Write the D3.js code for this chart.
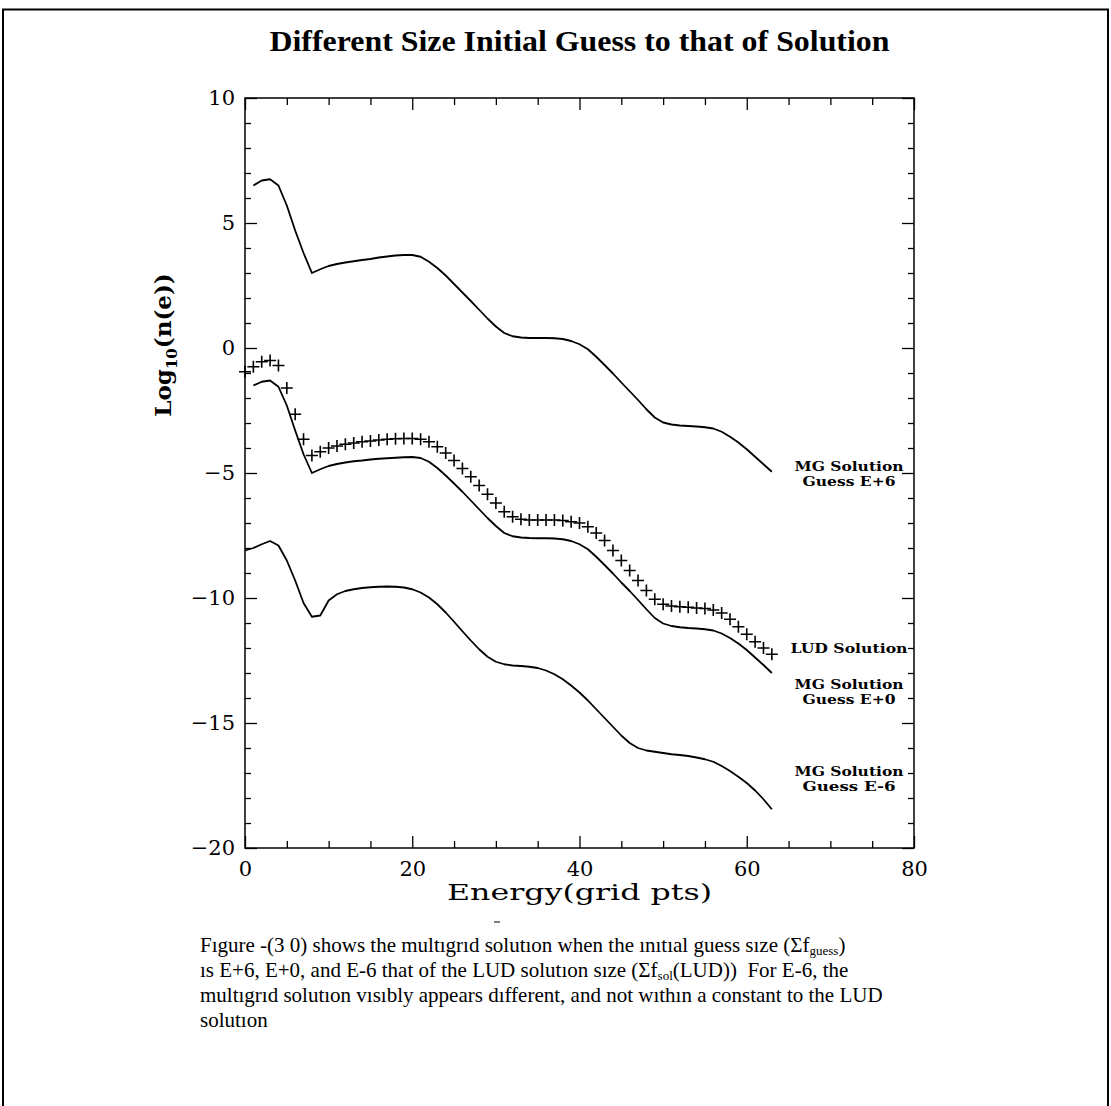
<!DOCTYPE html>
<html><head><meta charset="utf-8">
<script src="https://cdn.jsdelivr.net/npm/d3@7"></script>
<style>body{margin:0;background:#fff}svg{display:block}</style>
</head><body>
<svg id="c" width="1111" height="1106"></svg>
<script>
const titleText = "Different Size Initial Guess to that of Solution";
const xTicks = [0, 20, 40, 60, 80];
const yTicks = [10, 5, 0, -5, -10, -15, -20];
const gridPtsA = [1,2,3,4,5,6,7,8,9,10,11,12,13,14,15,16,17,18,19,20,21,22,23,24,25,26,27,28,29,30,31,32,33,34,35,36,37,38,39,40,41,42,43,44,45,46,47,48,49,50,51,52,53,54,55,56,57,58,59,60,61,62,63];
const gridPtsB = [0].concat(gridPtsA);
const mgGuessEp6 = [6.5,6.7,6.75,6.5,5.7,4.7,3.8,3.0,3.15,3.28,3.36,3.42,3.47,3.52,3.56,3.62,3.66,3.7,3.72,3.72,3.65,3.45,3.2,2.9,2.56,2.22,1.88,1.53,1.18,0.86,0.6,0.47,0.42,0.4,0.4,0.4,0.39,0.36,0.28,0.15,-0.05,-0.35,-0.68,-1.02,-1.38,-1.73,-2.08,-2.45,-2.78,-2.98,-3.06,-3.1,-3.12,-3.14,-3.17,-3.22,-3.35,-3.55,-3.78,-4.05,-4.35,-4.65,-4.95];
const mgGuessE0 = [-1.5,-1.35,-1.3,-1.55,-2.3,-3.3,-4.25,-5.0,-4.85,-4.72,-4.64,-4.58,-4.53,-4.5,-4.46,-4.43,-4.41,-4.39,-4.37,-4.36,-4.4,-4.55,-4.8,-5.1,-5.42,-5.75,-6.1,-6.45,-6.8,-7.12,-7.4,-7.53,-7.58,-7.6,-7.61,-7.61,-7.62,-7.65,-7.72,-7.85,-8.05,-8.35,-8.68,-9.02,-9.38,-9.72,-10.08,-10.45,-10.8,-11.02,-11.12,-11.17,-11.2,-11.22,-11.25,-11.3,-11.42,-11.6,-11.82,-12.08,-12.38,-12.68,-13.0];
const mgGuessEm6 = [-8.1,-8.0,-7.85,-7.72,-7.9,-8.5,-9.3,-10.2,-10.75,-10.7,-10.1,-9.85,-9.72,-9.65,-9.6,-9.57,-9.55,-9.54,-9.55,-9.58,-9.65,-9.78,-9.98,-10.25,-10.58,-10.95,-11.33,-11.7,-12.05,-12.35,-12.55,-12.65,-12.7,-12.72,-12.75,-12.8,-12.9,-13.05,-13.25,-13.5,-13.78,-14.1,-14.45,-14.8,-15.15,-15.5,-15.8,-16.0,-16.1,-16.15,-16.2,-16.25,-16.28,-16.32,-16.38,-16.45,-16.55,-16.72,-16.92,-17.15,-17.4,-17.7,-18.05,-18.45];
const ludSolution = [-0.95,-0.75,-0.55,-0.5,-0.7,-1.6,-2.65,-3.65,-4.3,-4.15,-4.0,-3.92,-3.85,-3.8,-3.75,-3.72,-3.68,-3.65,-3.63,-3.62,-3.62,-3.65,-3.75,-3.95,-4.2,-4.5,-4.82,-5.15,-5.5,-5.85,-6.2,-6.55,-6.75,-6.85,-6.88,-6.88,-6.88,-6.88,-6.9,-6.95,-7.0,-7.15,-7.4,-7.7,-8.1,-8.5,-8.9,-9.3,-9.7,-10.05,-10.25,-10.32,-10.35,-10.37,-10.4,-10.42,-10.48,-10.6,-10.85,-11.15,-11.45,-11.75,-12.0,-12.25];
const seriesLabels = [
  {lines:["MG Solution","Guess E+6"], y:-4.93},
  {lines:["LUD Solution"], y:-12.2},
  {lines:["MG Solution","Guess E+0"], y:-13.65},
  {lines:["MG Solution","Guess E-6"], y:-17.13}
];
const captionLines = [
  [["Fıgure -(3 0) shows the multıgrıd solutıon when the ınıtıal guess sıze (Σf",0],["guess",1],[")",0]],
  [["ıs E+6, E+0, and E-6 that of the LUD solutıon sıze (Σf",0],["sol",1],["(LUD))\u00a0 For E-6, the",0]],
  [["multıgrıd solutıon vısıbly appears dıfferent, and not wıthın a constant to the LUD",0]],
  [["solutıon",0]]
];

const svg = d3.select("#c");
const L = 245, R = 914, T = 98, B = 848;
const x = d3.scaleLinear().domain([0, 80]).range([L, R]);
const y = d3.scaleLinear().domain([-20, 10]).range([B, T]);

// page frame
svg.append("path").attr("d", `M3,1106 V9.5 H1108 V1106`).attr("fill","none").attr("stroke","#000").attr("stroke-width",2);

// title
svg.append("text").attr("x", (L+R)/2).attr("y", 51).attr("text-anchor","middle")
  .attr("font-family","Liberation Serif").attr("font-weight","bold").attr("font-size",30)
  .attr("textLength",620).attr("lengthAdjust","spacingAndGlyphs").text(titleText);

// frame of plot
svg.append("rect").attr("x",L).attr("y",T).attr("width",R-L).attr("height",B-T)
  .attr("fill","none").attr("stroke","#000").attr("stroke-width",1.5);

const tickFont = g => g.selectAll("text").attr("font-family","DejaVu Serif").attr("font-size",21).attr("fill","#000");
const clean = g => { g.select(".domain").remove(); g.selectAll("line").attr("stroke","#000").attr("stroke-width",1.3); };

// major ticks with labels
svg.append("g").attr("transform",`translate(0,${B})`)
  .call(d3.axisBottom(x).tickValues(xTicks).tickSize(-12).tickPadding(13).tickFormat(d3.format("d")))
  .call(clean).call(tickFont);
svg.append("g").attr("transform",`translate(${L},0)`)
  .call(d3.axisLeft(y).tickValues(yTicks).tickSize(-12).tickPadding(10).tickFormat(d => d < 0 ? "\u2212" + Math.abs(d) : d))
  .call(clean).call(tickFont);
svg.append("g").attr("transform",`translate(0,${T})`)
  .call(d3.axisTop(x).tickValues(xTicks).tickSize(-12).tickFormat(""))
  .call(clean);
svg.append("g").attr("transform",`translate(${R},0)`)
  .call(d3.axisRight(y).tickValues(yTicks).tickSize(-12).tickFormat(""))
  .call(clean);
// minor ticks
const xMinor = d3.range(0, 81, 5).filter(v => v % 20 !== 0);
const yMinor = d3.range(-20, 11, 1).filter(v => v % 5 !== 0);
svg.append("g").attr("transform",`translate(0,${B})`).call(d3.axisBottom(x).tickValues(xMinor).tickSize(-7).tickFormat("")).call(clean);
svg.append("g").attr("transform",`translate(0,${T})`).call(d3.axisTop(x).tickValues(xMinor).tickSize(-7).tickFormat("")).call(clean);
svg.append("g").attr("transform",`translate(${L},0)`).call(d3.axisLeft(y).tickValues(yMinor).tickSize(-6).tickFormat("")).call(clean);
svg.append("g").attr("transform",`translate(${R},0)`).call(d3.axisRight(y).tickValues(yMinor).tickSize(-6).tickFormat("")).call(clean);

// axis titles
svg.append("text").attr("x",(L+R)/2).attr("y",900).attr("text-anchor","middle")
  .attr("font-family","DejaVu Serif").attr("font-size",23)
  .attr("textLength",265).attr("lengthAdjust","spacingAndGlyphs").text("Energy(grid pts)");
const yl = svg.append("text").attr("transform",`translate(171,345) rotate(-90)`).attr("text-anchor","middle")
  .attr("font-family","DejaVu Serif").attr("font-weight","bold").attr("font-size",23);
yl.append("tspan").text("Log");
yl.append("tspan").attr("font-size",15).attr("dy",6).text("10");
yl.append("tspan").attr("dy",-6).text("(n(e))");

// curves
const line = d3.line().x(d => x(d[0])).y(d => y(d[1]));
const curves = [
  gridPtsA.map((g,i) => [g, mgGuessEp6[i]]),
  gridPtsA.map((g,i) => [g, mgGuessE0[i]]),
  gridPtsB.map((g,i) => [g, mgGuessEm6[i]])
];
svg.append("g").selectAll("path").data(curves).join("path")
  .attr("d", line).attr("fill","none").attr("stroke","#000").attr("stroke-width",1.8).attr("stroke-linejoin","round");

// LUD markers
const ms = 6;
svg.append("g").selectAll("path").data(gridPtsB.map((g,i) => [g, ludSolution[i]])).join("path")
  .attr("d", d => `M${x(d[0])-ms},${y(d[1])}h${2*ms}M${x(d[0])},${y(d[1])-ms}v${2*ms}`)
  .attr("stroke","#000").attr("stroke-width",1.6).attr("fill","none");

// series labels
const lg = svg.append("g").attr("font-family","DejaVu Serif").attr("font-weight","bold").attr("font-size",13).attr("text-anchor","middle");
seriesLabels.forEach(s => {
  s.lines.forEach((t,j) => {
    const w = t.startsWith("LUD") ? 117 : (t.startsWith("MG") ? 109 : 93);
    lg.append("text").attr("x", 849).attr("y", y(s.y) + j*15)
      .attr("textLength", w).attr("lengthAdjust","spacingAndGlyphs").text(t);
  });
});

// caption
const cap = svg.append("g").attr("font-family","Liberation Serif").attr("font-size",21);
captionLines.forEach((ln,i) => {
  const t = cap.append("text").attr("x",200).attr("y",952 + i*25);
  ln.forEach(([s,sub],k) => {
    const ts = t.append("tspan").text(s);
    if (sub) ts.attr("font-size",13).attr("dy",3);
    else if (k > 0 && ln[k-1][1]) ts.attr("dy",-3);
  });
});
// small overbar mark in caption
svg.append("line").attr("x1",494).attr("x2",500).attr("y1",922).attr("y2",922).attr("stroke","#000").attr("stroke-width",1);
</script>
</body></html>
